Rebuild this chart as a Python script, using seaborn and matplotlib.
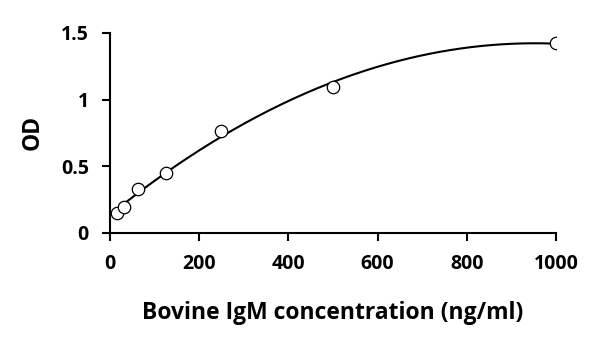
import numpy as np
import pandas as pd
import matplotlib
matplotlib.use("Agg")
import matplotlib.pyplot as plt
import seaborn as sns

conc = [15.6, 31.25, 62.5, 125, 250, 500, 1000]
od = [0.15, 0.195, 0.33, 0.45, 0.765, 1.095, 1.425]
x_ticks = [0, 200, 400, 600, 800, 1000]
y_ticks = [0, 0.5, 1, 1.5]
y_tick_labels = ["0", "0.5", "1", "1.5"]

sns.set_style("white")
plt.rcParams['font.family'] = ['Open Sans', 'DejaVu Sans']
plt.rcParams.update({"text.color": "black", "axes.labelcolor": "black",
                     "xtick.color": "black", "ytick.color": "black"})

df = pd.DataFrame({"conc": conc, "od": od})

fig = plt.figure(figsize=(6, 3.46), dpi=100)
ax = fig.add_axes([0.183, 0.327, 0.744, 0.578])

coef = np.polyfit(df["conc"], df["od"], 2)
xs = np.linspace(min(conc), max(conc), 300)
fit = pd.DataFrame({"conc": xs, "od": np.polyval(coef, xs)})
sns.lineplot(data=fit, x="conc", y="od", ax=ax, color="black", linewidth=1.5)
sns.scatterplot(data=df, x="conc", y="od", ax=ax, s=80, facecolor="white",
                edgecolor="black", linewidth=0.9, zorder=3)

ax.set_xlim(0, 1000)
ax.set_ylim(0, 1.5)
ax.set_xticks(x_ticks)
ax.set_yticks(y_ticks)
ax.set_yticklabels(y_tick_labels)
for s in ["top", "right"]:
    ax.spines[s].set_visible(False)
for s in ["left", "bottom"]:
    ax.spines[s].set_color("black")
    ax.spines[s].set_linewidth(1.5)
ax.tick_params(axis="both", direction="out", length=6, width=1.5, color="black",
               labelcolor="black", labelsize=14, pad=9, bottom=True, left=True)
for lab in ax.get_xticklabels() + ax.get_yticklabels():
    lab.set_fontweight("bold")
ax.set_xlabel("Bovine IgM concentration (ng/ml)", fontsize=16.5, fontweight="bold",
              labelpad=20, color="black")
ax.set_ylabel("OD", fontsize=16.5, fontweight="bold", labelpad=12, color="black")

fig.savefig("out.png", dpi=100, facecolor="white")
